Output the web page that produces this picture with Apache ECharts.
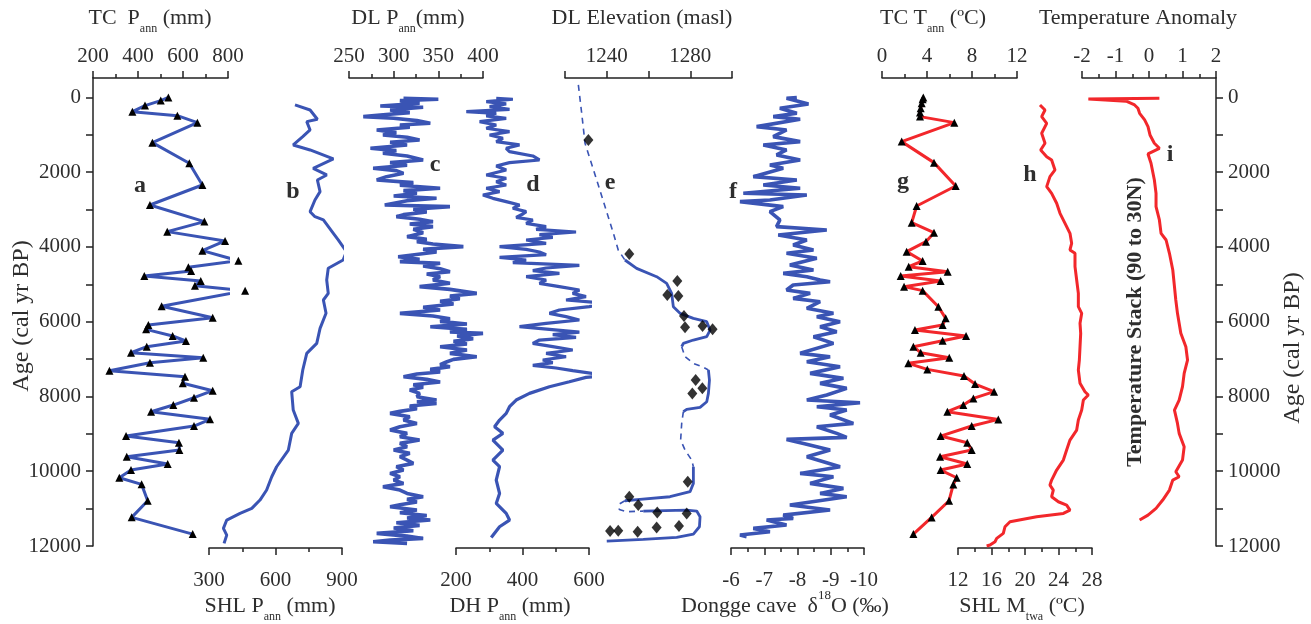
<!DOCTYPE html>
<html><head><meta charset="utf-8">
<script src="https://cdn.jsdelivr.net/npm/echarts@6/dist/echarts.min.js"></script>
<style>html,body{margin:0;padding:0;background:#fff}#c{width:1311px;height:624px}</style>
</head><body><div id="c"></div>
<script>
// ---------------- DATA (age in cal yr BP) ----------------
// a: TC Pann (mm)
const tcAgesA = [0,85,219,380,487,674,1209,1762,2342,2877,3322,3590,3840,4099,4367,4545,4643,4777,4911,5036,5170,5588,5892,6088,6204,6382,6516,6668,6829,6962,7096,7310,7470,7648,7845,8033,8229,8407,8611,8790,9058,9237,9433,9612,9808,9968,10174,10351,10790,11234,11681];
const tcPann = [535,501,431,375,575,664,464,628,686,453,695,530,787,686,846,624,636,428,679,653,876,505,732,446,436,554,613,439,369,690,453,273,609,599,732,649,557,458,720,649,347,582,584,350,532,369,317,416,443,372,643];
// b: SHL Pann (mm)
const shlAgesB = [201,335,584,647,870,1048,1271,1405,1646,1896,2074,2208,2520,2743,3056,3190,3278,3635,3813,4126,4348,4571,4884,5240,5419,5775,6177,6578,6846,7292,7738,7872,8362,8719,8986,9433,9880,10147,10503,10771,10994,11127,11306,11529,11708,11930];
const shlPann = [688,756,789,741,756,723,680,756,861,770,831,789,801,778,756,778,816,861,883,920,905,838,831,838,816,828,801,786,741,723,711,673,680,703,673,658,605,583,560,530,493,440,380,365,380,368];
// c: DL Pann (mm)
const dlAgesC = [23,49,85,156,228,263,335,406,469,513,558,620,692,736,799,870,941,1004,1066,1138,1200,1271,1361,1423,1494,1566,1673,1744,1816,1896,1958,2030,2119,2208,2279,2351,2431,2493,2565,2636,2699,2761,2877,2922,2993,3064,3136,3189,3261,3323,3385,3457,3528,3617,3724,3796,3858,3921,3992,4063,4135,4260,4331,4393,4438,4509,4581,4661,4723,4795,4884,4973,5062,5134,5241,5312,5384,5455,5526,5615,5687,5776,5847,5919,5990,6061,6133,6204,6276,6311,6383,6454,6525,6597,6668,6757,6846,6936,7007,7078,7150,7203,7275,7346,7399,7471,7542,7614,7685,7756,7828,7917,8006,8095,8140,8184,8256,8327,8398,8452,8541,8630,8720,8809,8898,8987,9076,9166,9255,9344,9433,9522,9612,9701,9790,9879,9968,10058,10147,10236,10325,10414,10504,10593,10682,10753,10825,10896,10950,11039,11110,11182,11253,11306,11378,11449,11520,11592,11663,11735,11797,11842,11886,11931];
const dlPann = [311,350,307,329,285,333,296,318,285,266,300,326,341,307,318,281,303,288,315,329,296,315,274,303,288,315,333,296,315,277,303,311,292,281,322,307,352,311,326,300,348,315,290,363,322,337,311,303,329,344,318,344,322,333,315,337,326,344,378,333,348,305,329,307,352,333,352,363,337,352,344,363,329,363,393,363,374,352,367,333,352,307,344,363,352,382,341,382,363,400,371,389,367,382,352,382,363,393,367,359,352,363,341,352,326,311,337,352,322,333,318,329,326,348,326,348,318,326,307,296,318,311,326,307,296,315,307,329,307,315,300,318,307,315,322,303,311,296,307,300,311,288,307,315,333,315,326,307,296,326,307,337,315,341,303,329,300,322,281,315,333,296,277,315];
// d: DH Pann (mm)
const dhAgesD = [23,49,112,174,246,317,379,424,495,558,647,736,825,915,1004,1093,1182,1271,1361,1450,1566,1673,1744,1833,1940,2074,2163,2253,2342,2431,2520,2609,2699,2788,2877,2966,3055,3118,3207,3278,3368,3457,3528,3600,3671,3742,3814,3903,3992,4063,4135,4206,4277,4349,4420,4492,4563,4634,4706,4795,4884,4973,5062,5152,5241,5330,5419,5508,5598,5687,5776,5865,5954,6044,6133,6204,6276,6347,6418,6490,6579,6668,6757,6846,6936,7025,7096,7168,7239,7310,7382,7435,7489,7605,7738,7917,8095,8274,8452,8630,8809,8987,9166,9433,9701,9879,10236,10593,10861,11128,11306,11485,11770];
const dhPann = [321,371,291,351,301,361,231,321,291,351,271,321,291,361,301,341,321,391,351,361,431,451,361,321,351,291,351,321,351,291,331,281,311,351,391,371,411,401,381,431,411,471,441,561,451,491,411,471,331,411,451,471,331,411,371,571,471,431,511,411,471,451,511,571,551,591,531,651,601,511,481,531,571,471,391,481,571,491,561,451,431,491,551,471,531,461,491,431,501,551,611,651,591,541,481,421,381,361,351,331,316,341,311,341,311,331,321,331,321,351,361,331,306];
// e: DL Elevation (masl) - reconstructed path; solid = dated, dashed = inferred
const elevAges = [-334,424,1227,2208,2922,3635,4081,4349,4572,4795,4973,5241,5598,5776,5910,6000,6222,6400,6490,6579,6668,6936,7114,7221,7292,7560,7917,8140,8291,8345,8407,8720,9166,9433,9701,9879,10325,10548,10682,10753,10789,10878,11021,11083,11066,11039,11066,11217,11485,11681,11770,11824,11868];
const elevVals = [1226.4,1228.0,1229.6,1235.2,1239.2,1243.2,1245.5,1248.7,1254.3,1263.9,1268.7,1271.1,1271.9,1275.1,1281.5,1287.9,1289.5,1287.9,1281.5,1276.7,1275.9,1277.5,1281.5,1286.3,1288.7,1289.2,1288.7,1287.9,1284.7,1278.3,1276.7,1275.9,1275.4,1277.5,1280.7,1281.5,1281.5,1279.9,1270.3,1255.9,1248.7,1246.0,1246.0,1249.5,1257.5,1278.3,1283.1,1284.7,1284.4,1281.5,1273.5,1257.5,1240.0];
const elevDashedRanges = [[0,7],[20,24],[30,35],[40,44]];
const elevSolidRanges = [[7,20],[24,30],[35,40],[44,52]];
const elevPtAges = [1138,4188,4911,5285,5312,5847,6151,6115,6204,7560,7783,7917,10281,10682,10905,11101,11128,11601,11592,11619,11503,11467];
const elevPtVals = [1231.2,1250.8,1273.8,1269.0,1274.3,1277.0,1277.5,1285.9,1290.7,1282.6,1285.8,1281.0,1278.8,1250.8,1255.1,1264.2,1278.3,1241.6,1245.5,1254.8,1263.9,1274.6];
// f: Dongge cave d18O (permil)
const dgAges = [0,23,174,290,424,513,585,781,870,1048,1182,1271,1405,1539,1673,1807,1896,2119,2208,2342,2431,2565,2609,2743,2788,2922,3055,3278,3457,3546,3680,3814,3947,4081,4170,4304,4483,4616,4706,4795,4884,4929,5018,5152,5241,5375,5464,5642,5776,5865,5999,6133,6267,6400,6579,6846,6936,7070,7203,7382,7515,7649,7783,7961,8095,8167,8274,8363,8497,8720,8809,8987,9094,9148,9255,9433,9612,9879,10058,10147,10325,10459,10593,10682,10905,11039,11173,11262,11306,11440,11529,11619,11708,11752];
const dgD18O = [-7.98,-7.67,-8.33,-7.47,-7.98,-7.27,-8.08,-6.77,-7.67,-7.27,-8.08,-6.97,-7.67,-7.37,-8.08,-7.17,-7.57,-6.67,-7.98,-6.97,-8.08,-6.37,-8.28,-7.17,-6.27,-7.57,-7.17,-7.47,-7.37,-8.88,-7.42,-8.28,-7.87,-8.48,-7.67,-8.58,-7.77,-8.48,-7.57,-8.28,-8.68,-8.98,-7.87,-7.67,-8.38,-7.87,-8.68,-8.28,-9.08,-8.58,-9.28,-8.68,-9.18,-8.48,-9.08,-8.08,-8.98,-8.28,-9.28,-8.38,-9.38,-8.68,-9.48,-8.88,-8.28,-9.88,-8.58,-9.48,-8.98,-9.68,-8.58,-9.18,-9.48,-7.67,-8.18,-8.98,-8.28,-9.28,-8.08,-9.08,-8.38,-9.38,-8.68,-9.48,-7.77,-8.98,-7.57,-7.87,-7.07,-7.67,-6.67,-7.17,-6.27,-6.47];
// g: TC Tann (degC)
const tcAgesG = [0,49,156,290,406,513,674,1182,1744,2369,2904,3350,3617,3858,4126,4376,4527,4661,4777,4911,5062,5169,5598,5910,6088,6222,6383,6507,6668,6829,6962,7114,7275,7453,7667,7872,8051,8229,8407,8613,8791,9059,9237,9433,9612,9808,9968,10174,10352,10789,11235,11681];
const tcTann = [3.67,3.61,3.53,3.44,3.38,3.38,6.43,1.75,4.62,6.55,3.08,2.64,4.62,3.91,2.19,3.61,2.37,5.84,1.66,5.21,1.96,3.61,5.01,5.66,5.39,2.93,7.47,5.39,2.79,3.44,5.98,2.34,4.03,7.29,8.27,9.96,8.12,7.23,5.81,10.34,7.97,5.21,7.58,7.97,5.16,7.58,5.21,6.64,6.34,5.96,4.41,2.79];
// h: SHL Mtwa (degC)
const shlAgesH = [201,335,513,692,959,1227,1405,1584,1673,1940,2119,2386,2565,2832,3100,3368,3635,3903,4081,4170,4527,4884,5241,5598,5776,6044,6311,6668,7025,7292,7649,7872,7961,8095,8363,8630,8898,9166,9433,9701,9968,10236,10370,10504,10682,10816,10905,11039,11128,11217,11351,11485,11663,11797,11886,11975,12000];
const shlMtwa = [21.79,22.39,21.99,22.59,21.99,22.39,21.87,22.59,23.18,23.58,22.98,22.59,23.18,23.78,24.18,24.78,25.37,25.57,25.37,25.97,25.97,26.17,26.37,26.37,26.77,26.57,26.65,26.57,26.49,26.37,26.57,27.16,27.56,26.97,26.77,26.37,26.17,25.37,24.97,24.58,23.78,23.18,22.98,23.38,23.18,23.98,24.97,25.37,24.58,21.39,18.21,17.61,17.41,16.62,16.42,15.82,15.42];
// i: Temperature stack anomaly (90 to 30N)
const stackAges = [20,40,100,201,290,424,602,781,1004,1227,1361,1512,1762,2208,2565,2922,3278,3635,3814,4170,4616,5062,5419,5776,6311,6668,7025,7382,7738,8095,8363,8720,8987,9344,9701,10013,10147,10236,10504,10771,10994,11173,11306];
const stackAnom = [0.31,-1.81,-0.68,-0.43,-0.33,-0.28,-0.13,-0.03,0.03,0.16,0.31,-0.03,0.06,0.16,0.21,0.21,0.31,0.36,0.51,0.61,0.71,0.76,0.80,0.85,0.95,1.10,1.15,1.05,1.00,0.90,0.76,0.85,0.90,1.05,1.00,0.80,0.90,0.71,0.61,0.41,0.21,-0.03,-0.28];
// tick values
const ageTickValues = [0,1000,2000,3000,4000,5000,6000,7000,8000,9000,10000,11000,12000];
const ageLabelValues = [0,2000,4000,6000,8000,10000,12000];
const elevTickValues = [1220,1240,1260,1280,1300];
const elevLabelValues = [1240,1280];

// ---------------- CHART ----------------
const chart = echarts.init(document.getElementById('c'), null, {renderer: 'canvas'});
const FONT = "'Liberation Serif', 'Times New Roman', serif";
const BLUE = '#3a54b4', RED = '#f2272b', TXT = '#2e2e2e', AX = '#222';
const GRID_TOP = 78, GRID_H = 468;
const L = [
  {left: 93, width: 135, pos: 'top'},
  {left: 209, width: 133, pos: 'bottom'},
  {left: 349, width: 134, pos: 'top'},
  {left: 456, width: 133, pos: 'bottom'},
  {left: 565, width: 167, pos: 'top'},
  {left: 731, width: 133, pos: 'bottom'},
  {left: 882, width: 135, pos: 'top'},
  {left: 958, width: 134, pos: 'bottom'},
  {left: 1082, width: 134, pos: 'top'}
];
const scales = [
  {min: 200, max: 800, interval: 200},
  {min: 300, max: 900, interval: 300},
  {min: 250, max: 400, interval: 50},
  {min: 200, max: 600, interval: 200},
  {min: 1220, max: 1300, interval: 20},
  {min: -10, max: -6, interval: 1, inverse: true},
  {min: 0, max: 12, interval: 4},
  {min: 12, max: 28, interval: 4},
  {min: -2, max: 2, interval: 1}
];
const pairs = (xs, ys) => xs.map((v, k) => [v, ys[k]]);
const plain = v => String(v);

const grids = L.map(g => ({left: g.left, width: g.width, top: GRID_TOP, height: GRID_H, containLabel: false}));
const xAxes = L.map((g, i) => {
  const top = g.pos === 'top';
  const ax = {
    gridIndex: i, type: 'value', position: g.pos, offset: top ? 0 : 2,
    min: scales[i].min, max: scales[i].max, interval: scales[i].interval, inverse: !!scales[i].inverse,
    axisLine: {show: true, onZero: false, lineStyle: {color: AX, width: 1.5}},
    axisTick: {show: true, inside: false, length: 7, lineStyle: {color: AX, width: 1.5}},
    minorTick: {show: true, splitNumber: 2, length: 4, lineStyle: {color: AX, width: 1.5}},
    splitLine: {show: false}, minorSplitLine: {show: false},
    axisLabel: {show: true, fontSize: 21, fontFamily: FONT, color: TXT, margin: top ? 11 : 22, showMinLabel: true, showMaxLabel: true, formatter: plain}
  };
  if (i === 4) {
    ax.minorTick = {show: false};
    ax.axisTick.customValues = elevTickValues;
    ax.axisLabel.customValues = elevLabelValues;
  }
  return ax;
});
const yAxes = L.map((g, i) => {
  const base = {gridIndex: i, type: 'value', min: -520, max: 12000, inverse: true, show: false, splitLine: {show: false}};
  if (i === 0 || i === 8) {
    Object.assign(base, {
      show: true, position: i === 0 ? 'left' : 'right',
      axisLine: {show: true, onZero: false, lineStyle: {color: AX, width: 1.5}},
      axisTick: {show: true, inside: false, length: 7, customValues: ageTickValues, lineStyle: {color: AX, width: 1.5}},
      axisLabel: {show: true, customValues: ageLabelValues, fontSize: 21, fontFamily: FONT, color: TXT, margin: 12, formatter: plain}
    });
  }
  return base;
});

const series = [];
function line(i, data, color, extra) {
  series.push(Object.assign({
    type: 'line', xAxisIndex: i, yAxisIndex: i, data: data, clip: false,
    symbol: 'none', lineStyle: {color: color, width: 3}, itemStyle: {color: color},
    silent: true, z: 3
  }, extra || {}));
}
const tri = {symbol: 'triangle', symbolSize: 8, showSymbol: true, itemStyle: {color: '#000'}};
line(0, pairs(tcPann, tcAgesA), BLUE, tri);
line(1, pairs(shlPann, shlAgesB), BLUE);
line(2, pairs(dlPann, dlAgesC), BLUE, {lineStyle: {color: BLUE, width: 3.6}});
line(3, pairs(dhPann, dhAgesD), BLUE, {lineStyle: {color: BLUE, width: 3.2}});
const elevPath = pairs(elevVals, elevAges);
elevDashedRanges.forEach(r => line(4, elevPath.slice(r[0], r[1] + 1), BLUE, {lineStyle: {color: BLUE, width: 1.6, type: [6, 5]}}));
elevSolidRanges.forEach(r => line(4, elevPath.slice(r[0], r[1] + 1), BLUE, {lineStyle: {color: BLUE, width: 2.8}}));
series.push({type: 'scatter', xAxisIndex: 4, yAxisIndex: 4, data: pairs(elevPtVals, elevPtAges), symbol: 'diamond', symbolSize: [10, 12], itemStyle: {color: '#000'}, silent: true, z: 5, clip: false});
line(5, pairs(dgD18O, dgAges), BLUE, {lineStyle: {color: BLUE, width: 3.6}});
line(6, pairs(tcTann, tcAgesG), RED, tri);
line(7, pairs(shlMtwa, shlAgesH), RED);
line(8, pairs(stackAnom, stackAges), RED);

function txt(x, y, text, o) {
  o = o || {};
  return {
    type: 'text', x: x, y: y, rotation: o.rot || 0, silent: true, z: 10,
    style: Object.assign({
      text: text, fontSize: o.size || 22, fontFamily: FONT, fontWeight: o.bold ? 'bold' : 'normal',
      fill: TXT, align: 'center', verticalAlign: 'middle'
    }, o.rich ? {rich: o.rich} : {})
  };
}
const rich = {
  t: {fontSize: 22, fontFamily: FONT, fill: TXT, lineHeight: 34, verticalAlign: 'middle'},
  s: {fontSize: 12, fontFamily: FONT, fill: TXT, lineHeight: 8, verticalAlign: 'bottom'},
  p: {fontSize: 13, fontFamily: FONT, fill: TXT, lineHeight: 22, verticalAlign: 'top'}
};
const graphics = [
  txt(150, 18, '{t|TC  P}{s|ann}{t| (mm)}', {rich}),
  txt(408, 18, '{t|DL P}{s|ann}{t|(mm)}', {rich}),
  txt(642, 18, 'DL Elevation (masl)'),
  txt(933, 18, '{t|TC T}{s|ann}{t| (ºC)}', {rich}),
  txt(1138, 18, 'Temperature Anomaly'),
  txt(270, 606, '{t|SHL P}{s|ann}{t| (mm)}', {rich}),
  txt(510, 606, '{t|DH P}{s|ann}{t| (mm)}', {rich}),
  txt(785, 606, '{t|Dongge cave  δ}{p|18}{t|O (‰)}', {rich}),
  txt(1022, 606, '{t|SHL M}{s|twa}{t| (ºC)}', {rich}),
  txt(22, 316, 'Age (cal yr BP)', {rot: Math.PI / 2, size: 24}),
  txt(1293, 348, 'Age (cal yr BP)', {rot: Math.PI / 2, size: 24}),
  txt(1135, 322, 'Temperature Stack (90 to 30N)', {rot: Math.PI / 2, bold: true, size: 22}),
  txt(140, 186, 'a', {bold: true, size: 24}),
  txt(293, 192, 'b', {bold: true, size: 24}),
  txt(435, 165, 'c', {bold: true, size: 24}),
  txt(533, 185, 'd', {bold: true, size: 24}),
  txt(610, 183, 'e', {bold: true, size: 24}),
  txt(733, 192, 'f', {bold: true, size: 24}),
  txt(903, 182, 'g', {bold: true, size: 24}),
  txt(1030, 175, 'h', {bold: true, size: 24}),
  txt(1170, 155, 'i', {bold: true, size: 24})
];

chart.setOption({
  animation: false,
  backgroundColor: '#fff',
  grid: grids, xAxis: xAxes, yAxis: yAxes, series: series,
  graphic: {elements: graphics}
});
</script></body></html>
